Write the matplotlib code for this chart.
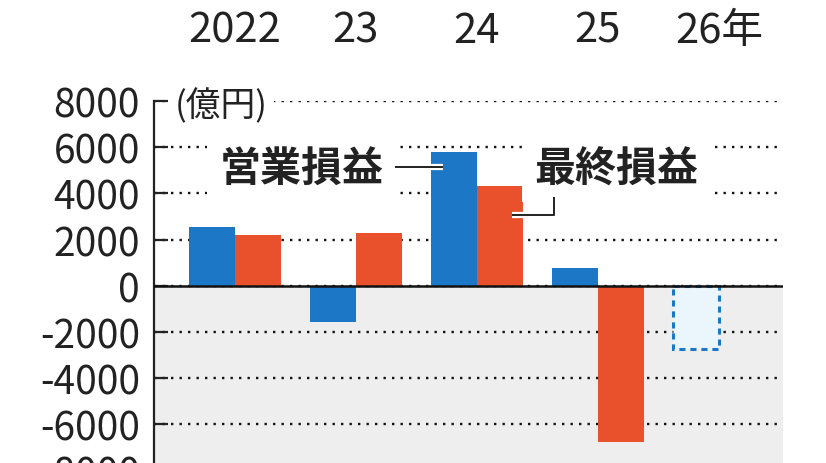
import matplotlib
matplotlib.use("Agg")
import matplotlib.pyplot as plt
import matplotlib.patheffects as pe
import numpy as np

# ---- data ----
years = ["2022", "23", "24", "25", "26年"]
operating = [2560, -1560, 5770, 780]          # 営業損益 (億円)
net = [2210, 2290, 4330, -6770]               # 最終損益 (億円)
forecast_operating = [-2730]                  # 2026 forecast 営業損益
yticks = [-8000, -6000, -4000, -2000, 0, 2000, 4000, 6000, 8000]
ytick_labels = [str(v) for v in yticks]

BLUE = "#1d77c7"
RED = "#e8512b"
GRAY = "#eeeeee"

num_family = ["Liberation Sans Narrow", "Noto Sans CJK JP", "DejaVu Sans"]
cjk_family = ["Noto Sans CJK JP", "DejaVu Sans"]

fig = plt.figure(figsize=(8.26, 4.64), dpi=100)
ax = fig.add_axes([0.1864, -0.0657, 0.7615, 0.8459])

x = np.arange(len(years))
w = 0.38

ax.set_xlim(-0.67, 4.53)
ax.set_ylim(-9000, 8000)

ax.axhspan(-9000, 0, color=GRAY, zorder=0.1, lw=0)

ax.bar(x[:4] - w / 2, operating, width=w, color=BLUE, zorder=2)
ax.bar(x[:4] + w / 2, net, width=w, color=RED, zorder=2)
ax.bar(x[4:] - w / 2, forecast_operating, width=w, facecolor="#eaf5fc",
       edgecolor=BLUE, linestyle=(0, (2, 1.6)), linewidth=2.2, zorder=2)

ax.axhline(0, color="#111111", lw=1.8, zorder=3)

# grid
ax.set_axisbelow(True)
ax.yaxis.grid(True, color="#111111", linestyle=(0, (1.0, 2.6)), linewidth=1.7)
ax.xaxis.grid(False)

for s in ["top", "right", "bottom"]:
    ax.spines[s].set_visible(False)
ax.spines["left"].set_linewidth(1.6)
ax.spines["left"].set_color("#222222")

ax.set_yticks(yticks)
ax.set_yticklabels(ytick_labels, family=num_family, fontsize=28, color="#222222")
ax.tick_params(axis="y", direction="in", length=10, width=1.6, pad=10, colors="#222222")

ax.set_xticks(x)
ax.set_xticklabels(years, family=num_family, fontsize=30, color="#222222")
ax.tick_params(axis="x", top=True, bottom=False, labeltop=True, labelbottom=False,
               length=0, pad=36)

# unit label
ax.text(-0.50, 7800, "(億円)", family=cjk_family, fontsize=25, color="#222222",
        ha="left", va="center", zorder=3,
        bbox=dict(facecolor="white", edgecolor="none", pad=5))

# series labels
ax.text(0.55, 5076, "営業損益", family=cjk_family, fontsize=29.5, fontweight="bold",
        color="#222222", ha="center", va="center", zorder=3,
        bbox=dict(facecolor="white", edgecolor="none", boxstyle="square,pad=0.3"))
ax.text(3.15, 5076, "最終損益", family=cjk_family, fontsize=29.5, fontweight="bold",
        color="#222222", ha="center", va="center", zorder=3,
        bbox=dict(facecolor="white", edgecolor="none", boxstyle="square,pad=0.3"))

stroke = [pe.withStroke(linewidth=4.5, foreground="white")]
ax.plot([1.32, 1.72], [5120, 5120], color="#222222", lw=1.4, zorder=4,
        path_effects=stroke, solid_capstyle="butt")
ax.plot([2.64, 2.64, 2.29], [3860, 3080, 3080], color="#222222", lw=1.4, zorder=4,
        path_effects=stroke, solid_capstyle="butt")

fig.savefig("out.png", dpi=100)
